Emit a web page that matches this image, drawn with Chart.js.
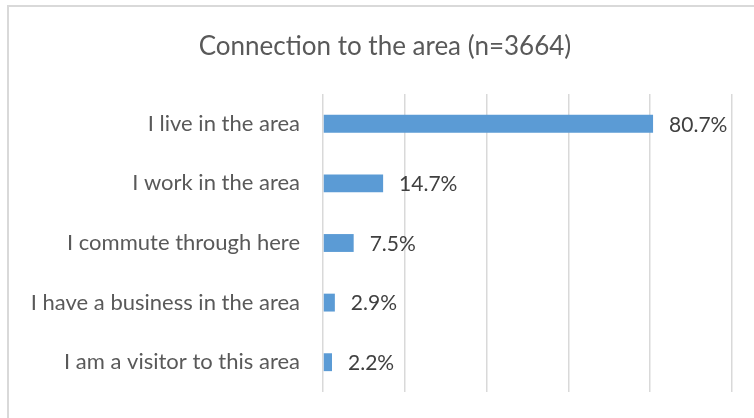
<!DOCTYPE html>
<html>
<head>
<meta charset="utf-8">
<script src="https://cdn.jsdelivr.net/npm/chart.js@4"></script>
<style>
  html, body { margin: 0; padding: 0; background: #fff; overflow: hidden; }
  #wrap { position: relative; width: 754px; height: 418px; }
  #frame { position: absolute; left: 7px; top: 5px; width: 780px; height: 440px; border: 2px solid #d9d9d9; box-sizing: border-box; pointer-events: none; }
  canvas { position: absolute; left: 0; top: 0; }
</style>
</head>
<body>
<div id="wrap">
  <canvas id="bar" width="754" height="418"></canvas>
  <div id="frame"></div>
</div>
<script>
const categories = [
    "I live in the area",
    "I work in the area",
    "I commute through here",
    "I have a business in the area",
    "I am a visitor to this area"
];
const percents = [80.7, 14.7, 7.5, 2.9, 2.2];
const titleText = "Connection to the area (n=3664)";

const FONT = "Lato, 'Open Sans', sans-serif";
const TEXT = "#595959";

// value labels at the end of each bar + title centred on the frame
const barLabels = {
    id: "barLabels",
    afterDatasetsDraw(chart) {
        const ctx = chart.ctx;
        const meta = chart.getDatasetMeta(0);
        ctx.save();
        ctx.font = "21px " + FONT;
        ctx.fillStyle = "#404040";
        ctx.textAlign = "left";
        ctx.textBaseline = "middle";
        meta.data.forEach((bar, i) => {
            ctx.fillText(percents[i].toFixed(1) + "%", bar.x + 16, bar.y + 1);
        });

        ctx.font = "26px " + FONT;
        ctx.fillStyle = TEXT;
        ctx.textAlign = "center";
        ctx.fillText(titleText, 385, 47);
        ctx.restore();
    }
};

new Chart(document.getElementById("bar"), {
    type: "bar",
    data: {
        labels: categories,
        datasets: [{
            data: percents,
            backgroundColor: "#5b9bd5",
            borderWidth: 0,
            barPercentage: 0.3,
            categoryPercentage: 1
        }]
    },
    plugins: [barLabels],
    options: {
        indexAxis: "y",
        responsive: false,
        animation: false,
        layout: { padding: { left: 0, right: 22, top: 94, bottom: 26 } },
        plugins: {
            legend: { display: false },
            tooltip: { enabled: false },
            title: { display: false }
        },
        scales: {
            x: {
                min: 0,
                max: 100,
                ticks: { display: false, stepSize: 20 },
                grid: { color: "#d9d9d9", lineWidth: 1.5, drawTicks: false },
                border: { display: false }
            },
            y: {
                grid: { display: false, drawTicks: false },
                border: { display: false },
                ticks: {
                    color: TEXT,
                    padding: 23,
                    font: { family: FONT, size: 22 }
                },
                afterFit(scale) {
                    scale.width = 323;
                    scale.paddingTop = 0;
                    scale.paddingBottom = 0;
                }
            }
        }
    }
});
</script>
</body>
</html>
